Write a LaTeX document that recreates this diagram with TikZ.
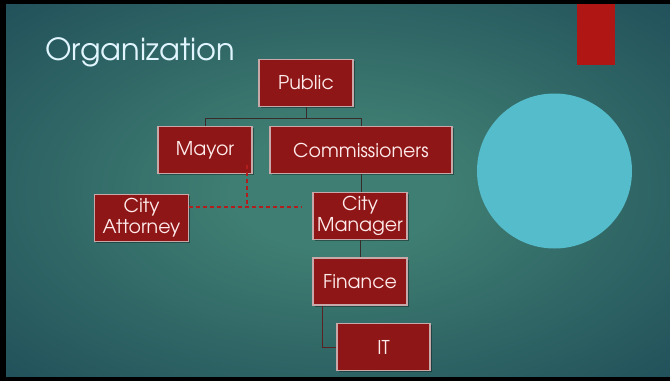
\documentclass[tikz,border=0pt]{standalone}
\usepackage{fontspec}
\setmainfont{TeX Gyre Adventor}
\usetikzlibrary{shadows}

\definecolor{bgin}{HTML}{3F7E72}
\definecolor{bgmid}{HTML}{21505A}
\definecolor{bgout}{HTML}{0E3243}
\definecolor{boxred}{HTML}{8E1616}
\definecolor{boxrim}{HTML}{C8A8A8}
\definecolor{tabred}{HTML}{B01614}
\definecolor{disc}{HTML}{55BCCC}
\definecolor{wire}{HTML}{3A2A2A}
\definecolor{dashred}{HTML}{B21E1E}

\pgfdeclareradialshading{slidebg}{\pgfpoint{0bp}{0bp}}{%
  color(0bp)=(bgin); color(8bp)=(bgin); color(36bp)=(bgmid); color(58bp)=(bgout); color(72bp)=(bgout)}

\begin{document}
\begin{tikzpicture}[x=1pt,y=-1pt,
    box/.style={rectangle,draw=boxrim,line width=1.1pt,fill=boxred,
      text=white!92!red,font=\fontsize{19}{21}\selectfont,align=center,
      inner sep=0pt,minimum width=94pt,minimum height=47pt,
      drop shadow={shadow xshift=1.5pt,shadow yshift=-1.5pt,fill=black,opacity=.35}},
    wire/.style={draw=wire,line width=1pt},
    dotwire/.style={draw=dashred,line width=1.2pt,dash pattern=on 4pt off 3pt}]
  \useasboundingbox (0,0) rectangle (670,381);
  \fill[black] (0,0) rectangle (670,381);
  \shade[shading=slidebg] (6,4) rectangle (670,376);

  \fill[tabred] (577,4) rectangle (615,65);
  \fill[disc] (554.5,171) circle (77.5);

  \node[anchor=base west,inner sep=0pt,text=white!88!cyan,
    font=\fontsize{30.5}{32}\selectfont] (title) at (45,60) {Organization};

  \node[box] (pub) at (306,83) {Public};
  \node[box] (may) at (205,150) {Mayor};
  \node[box,minimum width=182pt] (com) at (361,150) {Commissioners};
  \node[box] (att) at (141.5,218) {City\\Attorney};
  \node[box] (mgr) at (360,216) {City\\Manager};
  \node[box] (fin) at (360,281.5) {Finance};
  \node[box,minimum width=93pt] (it) at (383.5,347) {IT};

  \path[wire] (pub.south) -- ++(0,11) -| (may.north);
  \path[wire] (pub.south) ++(0,11) -| (com.north);
  \path[wire] (com.south) -- (com.south |- mgr.north);
  \path[wire] (mgr.south) -- (mgr.south |- fin.north);
  \path[wire,draw=wire!60!boxred] ([xshift=10pt]fin.south west) |- (it.west);

  \coordinate (tap) at (247,207);
  \path[dotwire] ([yshift=9pt]may.south -| tap) -- (tap);
  \path[dotwire,shorten >=11pt] (att.east |- tap) -- (tap -| mgr.west);
\end{tikzpicture}
\end{document}
